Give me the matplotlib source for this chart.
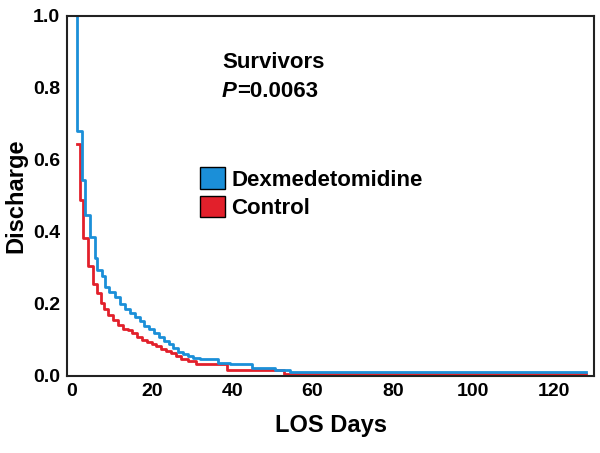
import matplotlib.pyplot as plt
from matplotlib.patches import Patch

plt.rcParams['font.family'] = ['Liberation Sans', 'DejaVu Sans']
plt.rcParams['font.weight'] = 'bold'
plt.rcParams['axes.labelweight'] = 'bold'

# step curves: (day of step, fraction still in hospital after it)
dex_days = [1.5, 1.5, 2.7, 3.5, 4.7, 5.9, 6.4, 7.6, 8.4, 9.4, 10.9, 12.2, 13.4, 14.6,
            15.8, 17.0, 18.2, 19.4, 20.6, 21.8, 23.0, 24.2, 25.4, 26.6, 27.8, 29.0,
            30.2, 32.0, 36.5, 39.5, 45.0, 50.6, 54.3, 128]
dex_vals = [1.0, 0.68, 0.544, 0.447, 0.386, 0.328, 0.294, 0.278, 0.247, 0.233, 0.219,
            0.20, 0.186, 0.175, 0.165, 0.152, 0.14, 0.13, 0.12, 0.108, 0.098, 0.088,
            0.078, 0.068, 0.06, 0.055, 0.05, 0.046, 0.036, 0.033, 0.022, 0.017, 0.01, 0.01]

ctl_days = [1.5, 1.5, 2.2, 3.0, 4.2, 5.5, 6.5, 7.4, 8.2, 9.2, 10.4, 11.6, 12.8, 14.0,
            15.2, 16.4, 17.6, 18.8, 20.0, 21.2, 22.4, 23.6, 24.8, 26.0, 27.2, 29.0,
            31.0, 38.7, 53.0, 128]
ctl_vals = [0.644, 0.644, 0.49, 0.383, 0.305, 0.256, 0.23, 0.203, 0.186, 0.17, 0.155,
            0.142, 0.13, 0.128, 0.118, 0.108, 0.1, 0.094, 0.088, 0.082, 0.076, 0.07,
            0.064, 0.056, 0.048, 0.042, 0.034, 0.017, 0.006, 0.006]

blue = '#1b8fd8'
red = '#e2202b'

fig = plt.figure(figsize=(6, 4.53), dpi=100)
ax = fig.add_axes([0.112, 0.17, 0.878, 0.795])

ax.step(ctl_days, ctl_vals, where='post', color=red, lw=2)
ax.step(dex_days, dex_vals, where='post', color=blue, lw=2)

ax.set_xlim(-1, 130)
ax.set_ylim(0, 1.0)
ax.set_xticks([0, 20, 40, 60, 80, 100, 120])
ax.set_yticks([0.0, 0.2, 0.4, 0.6, 0.8, 1.0])
ax.set_yticklabels(['0.0', '0.2', '0.4', '0.6', '0.8', '1.0'])
ax.tick_params(length=0, labelsize=14, pad=5)
for s in ax.spines.values():
    s.set_linewidth(1.5)
    s.set_color('#222222')

ax.set_xlabel('LOS Days', fontsize=17, labelpad=10)
ax.set_ylabel('Discharge', fontsize=17, labelpad=4)

ax.text(0.294, 0.855, 'Survivors', transform=ax.transAxes, fontsize=16)
p = ax.text(0.294, 0.775, 'P', transform=ax.transAxes, fontsize=16, style='italic')
ax.annotate('=0.0063', xy=(1, 0), xycoords=p, fontsize=16, va='bottom')

handles = [Patch(facecolor=blue, edgecolor='black', label='Dexmedetomidine'),
           Patch(facecolor=red, edgecolor='black', label='Control')]
ax.legend(handles=handles, loc='upper left', bbox_to_anchor=(0.215, 0.635),
          frameon=False, fontsize=16, handlelength=1.1, handleheight=1.1,
          handletextpad=0.3, labelspacing=0.25)

fig.savefig('out.png', dpi=100)
